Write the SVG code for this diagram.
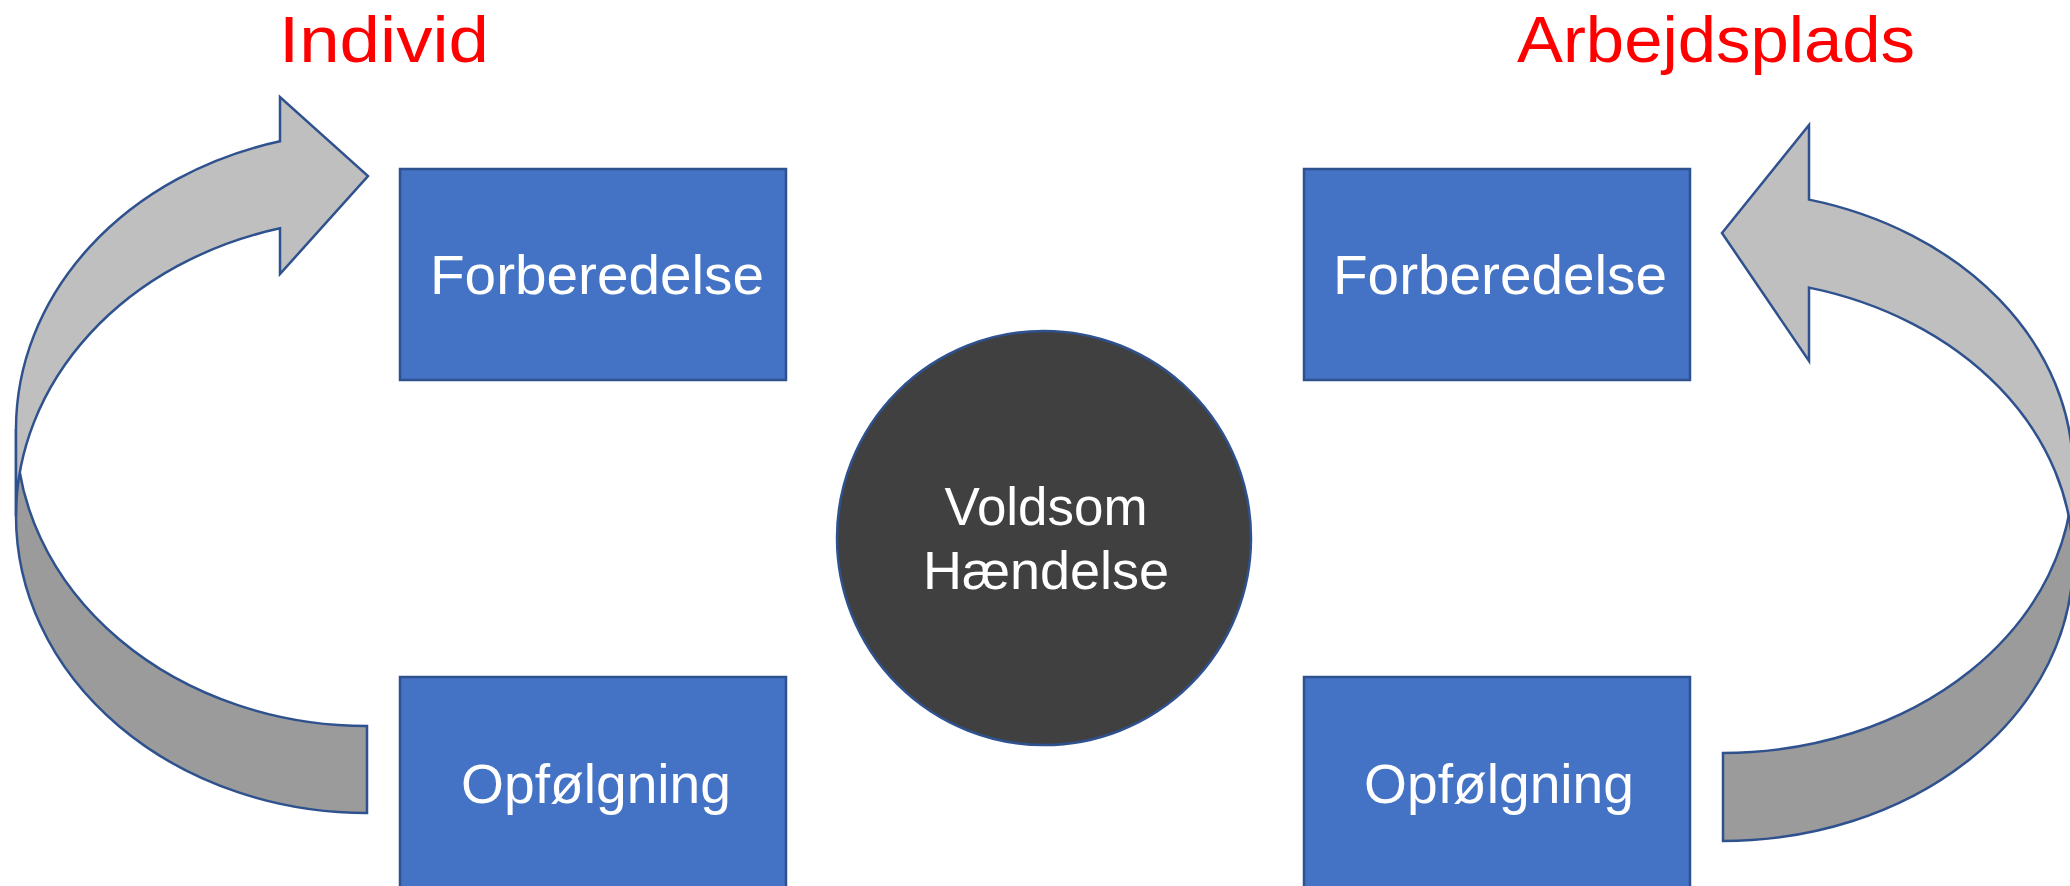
<svg xmlns="http://www.w3.org/2000/svg" width="2070" height="886" viewBox="0 0 2070 886">
<style>
.box{fill:#4472C4;stroke:#2F528F;stroke-width:2.5}
.hub{fill:#404040;stroke:#2F528F;stroke-width:2.5}
.light{fill:#BFBFBF;stroke:#2F528F;stroke-width:2.5;stroke-linejoin:miter}
.dark{fill:#9B9B9B;stroke:#2F528F;stroke-width:2.5}
.wt{font-family:"Comic Sans MS","Liberation Sans","DejaVu Sans",sans-serif;fill:#FFFFFF;text-anchor:middle}
.rt{font-family:"Comic Sans MS","Liberation Sans","DejaVu Sans",sans-serif;fill:#FF0000;text-anchor:middle;font-size:65px}
</style>
<rect width="2070" height="886" fill="#FFFFFF"/>
<g id="connectors">
  <g id="arrow-left">
    <path class="dark" d="M 16 429 A 351 297 0 0 0 367 726 L 367 813 A 351 297 0 0 1 16 516 Z"/>
    <path class="light" d="M 16 429 A 351 297 0 0 1 280 141.3 L 280 97 L 368 176 L 280 274 L 280 228.3 A 351 297 0 0 0 16 516 Z"/>
  </g>
  <g id="arrow-right">
    <path class="dark" d="M 2073 472 A 350 281 0 0 1 1723 753 L 1723 841 A 350 281 0 0 0 2073 560 Z"/>
    <path class="light" d="M 2073 472 A 350 281 0 0 0 1809 199.6 L 1809 125 L 1722 233 L 1809 361 L 1809 287.6 A 350 281 0 0 1 2073 560 Z"/>
  </g>
</g>
<g id="label-individ">
  <text class="rt" x="384" y="62" textLength="210" lengthAdjust="spacingAndGlyphs">Individ</text>
</g>
<g id="label-arbejdsplads">
  <text class="rt" x="1716" y="62" textLength="398" lengthAdjust="spacingAndGlyphs">Arbejdsplads</text>
</g>
<g id="node-forberedelse-left">
  <rect class="box" x="400" y="169" width="386" height="211"/>
  <text class="wt" x="597" y="294" font-size="56" textLength="334" lengthAdjust="spacingAndGlyphs">Forberedelse</text>
</g>
<g id="node-opfolgning-left">
  <rect class="box" x="400" y="677" width="386" height="220"/>
  <text class="wt" x="596" y="803" font-size="56" textLength="270" lengthAdjust="spacingAndGlyphs">Opfølgning</text>
</g>
<g id="node-forberedelse-right">
  <rect class="box" x="1304" y="169" width="386" height="211"/>
  <text class="wt" x="1500" y="294" font-size="56" textLength="334" lengthAdjust="spacingAndGlyphs">Forberedelse</text>
</g>
<g id="node-opfolgning-right">
  <rect class="box" x="1304" y="677" width="386" height="220"/>
  <text class="wt" x="1499" y="803" font-size="56" textLength="270" lengthAdjust="spacingAndGlyphs">Opfølgning</text>
</g>
<g id="node-voldsom">
  <circle class="hub" cx="1044" cy="538" r="207"/>
  <text class="wt" x="1046" y="525" font-size="53" textLength="203" lengthAdjust="spacingAndGlyphs">Voldsom</text>
  <text class="wt" x="1046" y="589" font-size="53" textLength="246" lengthAdjust="spacingAndGlyphs">Hændelse</text>
</g>
</svg>
